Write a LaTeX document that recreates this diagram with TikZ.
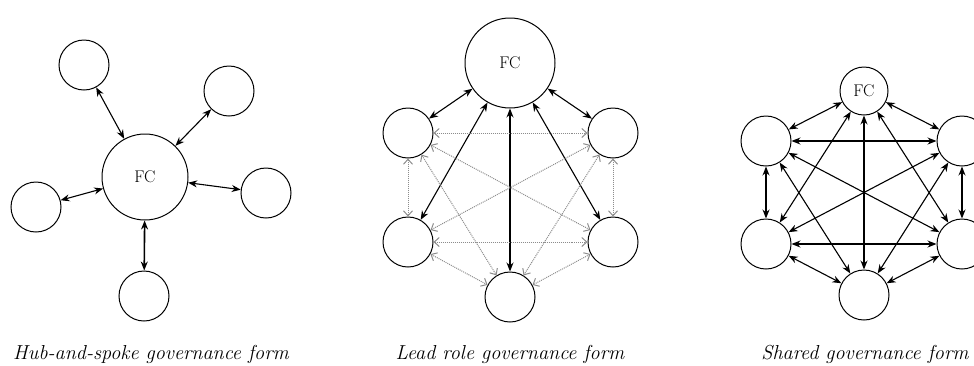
\documentclass[tikz,border=0pt]{standalone}
\usetikzlibrary{arrows.meta}
\begin{document}
\begin{tikzpicture}[x=1bp,y=-1bp,
  unit/.style={circle,draw,line width=1bp,minimum size=50bp,inner sep=0pt},
  hub/.style={unit,font=\fontsize{17}{20}\selectfont},
  tie/.style={line width=1.1bp,{Stealth[length=9bp,width=7bp]}-{Stealth[length=9bp,width=7bp]}},
  weak/.style={line width=1bp,densely dotted,black!45,
    {Straight Barb[length=5bp,width=9bp]}-{Straight Barb[length=5bp,width=9bp]}},
  caption/.style={font=\fontsize{20.3}{24}\selectfont\itshape,anchor=base,inner sep=0pt}]
\useasboundingbox (0,0) rectangle (974,365);
\clip (0,0) rectangle (974,365);

% Hub-and-spoke form
\node[hub,minimum size=86bp] (a0) at (145,177) {FC};
\node[unit] (a1) at (84,65) {};
\node[unit] (a2) at (229,91) {};
\node[unit] (a3) at (36,207) {};
\node[unit] (a4) at (266,193) {};
\node[unit] (a5) at (144,296) {};
\foreach \n in {a1,a2,a3,a4} \draw[tie] (a0) -- (\n);
\draw[tie,line width=1.6bp] (a0) -- (a5);
\node[caption] (ca) at (151,359) {Hub-and-spoke governance form};

% Lead role form
\node[hub,minimum size=90bp] (b0) at (510,63) {FC};
\node[unit] (b1) at (408,133) {};
\node[unit] (b2) at (613,133) {};
\node[unit] (b3) at (408,242) {};
\node[unit] (b4) at (613,242) {};
\node[unit] (b5) at (510,297) {};
\foreach \n in {b1,b2,b3,b4,b5} \draw[tie] (b0) -- (\n);
\foreach \p/\q in {b1/b2,b1/b3,b1/b4,b1/b5,b2/b3,b2/b4,b2/b5,b3/b4,b3/b5,b4/b5}
  \draw[weak] (\p) -- (\q);
\node[caption] (cb) at (510,359) {Lead role governance form};

% Shared form
\node[hub,minimum size=48bp] (c0) at (864,91) {FC};
\node[unit] (c1) at (766,141) {};
\node[unit] (c2) at (962,141) {};
\node[unit] (c3) at (766,244) {};
\node[unit] (c4) at (962,244) {};
\node[unit] (c5) at (864,295) {};
\foreach \p/\q in {c0/c1,c0/c2,c0/c3,c0/c4,c0/c5,c1/c2,c1/c3,c1/c4,c1/c5,c2/c3,c2/c4,c2/c5,c3/c4,c3/c5,c4/c5}
  \draw[tie] (\p) -- (\q);
\node[caption] (cc) at (865,359) {Shared governance form};
\end{tikzpicture}
\end{document}
